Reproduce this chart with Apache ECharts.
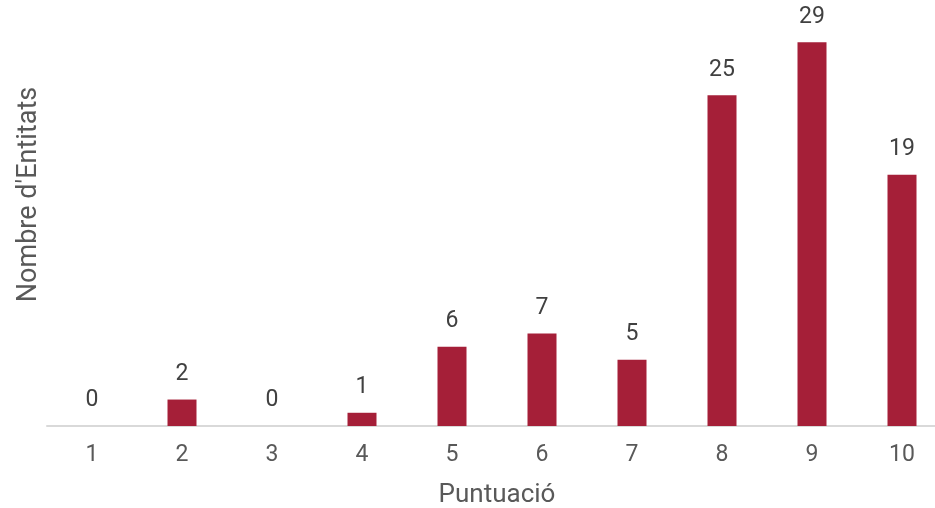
<!DOCTYPE html>
<html><head><meta charset="utf-8">
<script src="https://cdn.jsdelivr.net/npm/echarts@6/dist/echarts.min.js"></script>
<style>html,body{margin:0;padding:0;background:#fff}#c{width:935px;height:508px}</style>
</head><body><div id="c"></div>
<script>
const categories = ['1','2','3','4','5','6','7','8','9','10'];
const values = [0,2,0,1,6,7,5,25,29,19];
const xName = 'Puntuació';
const yName = "Nombre d'Entitats";

const chart = echarts.init(document.getElementById('c'));
chart.setOption({
  animation: false,
  grid: {left: 47, width: 900, top: -37, height: 463, containLabel: false, outerBoundsMode: 'none'},
  xAxis: {
    type: 'category', data: categories,
    name: xName, nameLocation: 'middle', nameGap: 56,
    nameTextStyle: {fontFamily: 'Roboto', fontSize: 26, color: '#595959'},
    axisLine: {lineStyle: {color: '#d9d9d9', width: 2}},
    axisTick: {show: false},
    axisLabel: {fontFamily: 'Roboto', fontSize: 23, color: '#595959', margin: 18}
  },
  yAxis: {
    type: 'value', min: 0, max: 35,
    name: yName, nameLocation: 'middle', nameGap: 4,
    nameTextStyle: {fontFamily: 'Roboto', fontSize: 27, color: '#595959'},
    axisLine: {show: false}, axisTick: {show: false},
    axisLabel: {show: false}, splitLine: {show: false}
  },
  series: [{
    type: 'bar', data: values, barWidth: 29,
    itemStyle: {color: '#A51F38'},
    label: {show: true, position: 'top', distance: 14, fontFamily: 'Roboto', fontSize: 23, color: '#404040'}
  }]
});
</script></body></html>
